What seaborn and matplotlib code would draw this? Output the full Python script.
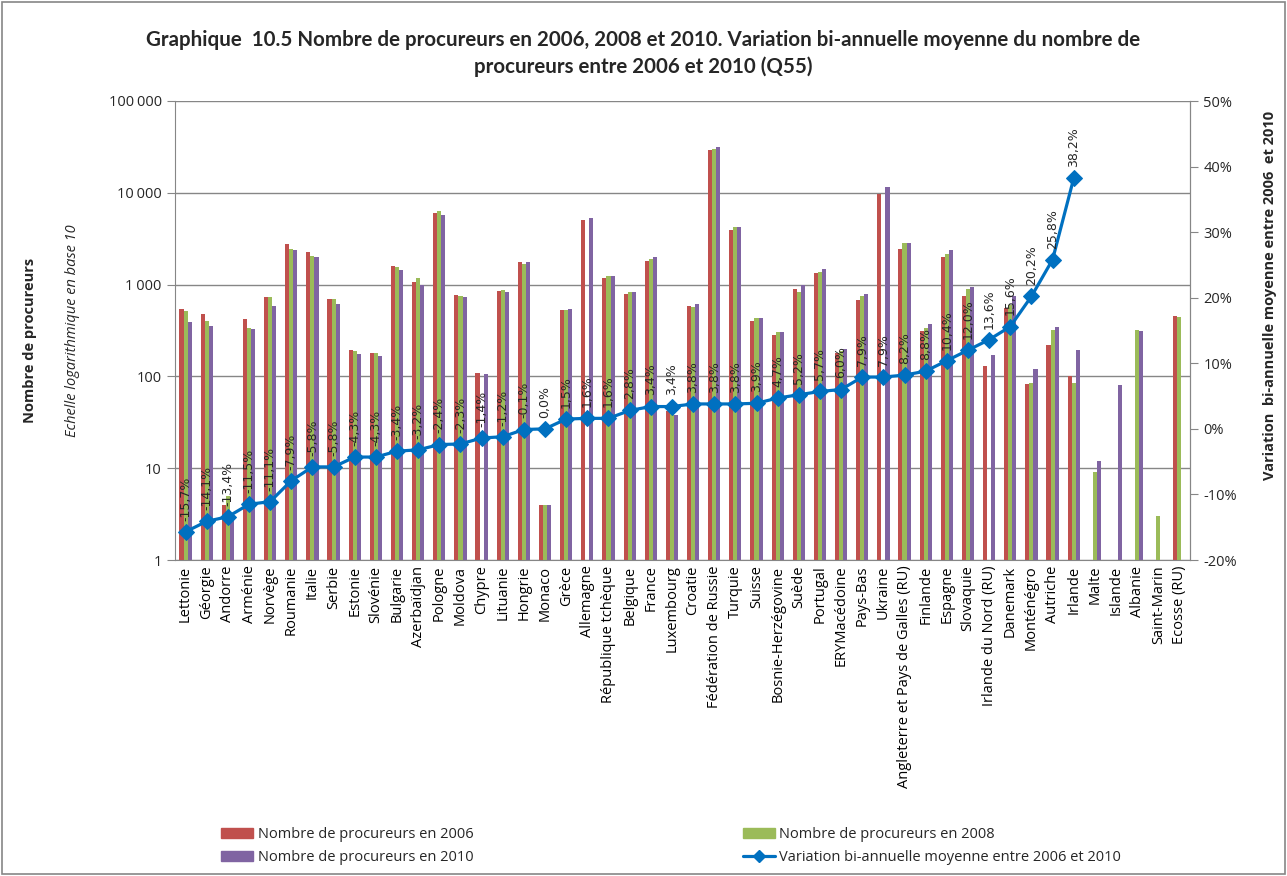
"""Nombre de procureurs 2006-2010 (graphique 10.5)"""

import numpy as np
import pandas as pd
import matplotlib
matplotlib.use("Agg")
import matplotlib.pyplot as plt
from matplotlib.lines import Line2D
from matplotlib.patches import Patch, Rectangle
from matplotlib.ticker import FixedLocator, NullLocator, FuncFormatter
import seaborn as sns

pays = [
    "Lettonie", "Géorgie", "Andorre", "Arménie", "Norvège", "Roumanie", "Italie",
    "Serbie", "Estonie", "Slovénie", "Bulgarie", "Azerbaïdjan", "Pologne", "Moldova",
    "Chypre", "Lituanie", "Hongrie", "Monaco", "Grèce", "Allemagne",
    "République tchèque", "Belgique", "France", "Luxembourg", "Croatie",
    "Fédération de Russie", "Turquie", "Suisse", "Bosnie-Herzégovine", "Suède",
    "Portugal", "ERYMacédoine", "Pays-Bas", "Ukraine",
    "Angleterre et Pays de Galles (RU)", "Finlande", "Espagne", "Slovaquie",
    "Irlande du Nord (RU)", "Danemark", "Monténégro", "Autriche", "Irlande",
    "Malte", "Islande", "Albanie", "Saint-Marin", "Ecosse (RU)",
]

nan = np.nan
proc_2006 = [
    544, 480, 4, 424, 734, 2743, 2265, 693, 193, 181, 1583, 1069, 6010, 778,
    109, 847, 1749, 4, 530, 5044, 1191, 798, 1824, 42, 581, 29320, 3927, 406,
    284, 905, 1339, 181, 676, 9680, 2462, 314, 2000, 753, 131, 553, 83, 219,
    101, nan, nan, nan, nan, 460,
]
proc_2008 = [
    522, 403, 5, 335, 734, 2421, 2050, 693, 190, 178, 1543, 1172, 6270, 759,
    nan, 868, 1679, 4, 530, nan, 1242, 832, 1885, 40, 567, 30330, 4270, 431,
    306, 832, 1361, 190, 759, nan, 2837, 340, 2155, 905, nan, 601, 85, 321,
    85, 9, nan, 321, 3, 442,
]
proc_2010 = [
    390, 355, 3, 330, 581, 2361, 2000, 622, 176, 166, 1443, 992, 5720, 728,
    106, 832, 1749, 4, 544, 5309, 1242, 832, 1983, 38, 617, 31900, 4270, 431,
    306, 1000, 1481, 201, 785, 11530, 2837, 374, 2400, 944, 169, 753, 121, 347,
    193, 12, 80, 314, nan, nan,
]
# variation bi-annuelle moyenne (%), pour les 43 premiers pays
variation = [
    -15.7, -14.1, -13.4, -11.5, -11.1, -7.9, -5.8, -5.8, -4.3, -4.3, -3.4, -3.2,
    -2.4, -2.3, -1.4, -1.2, -0.1, 0.0, 1.5, 1.6, 1.6, 2.8, 3.4, 3.4, 3.8, 3.8,
    3.8, 3.9, 4.7, 5.2, 5.7, 6.0, 7.9, 7.9, 8.2, 8.8, 10.4, 12.0, 13.6, 15.6,
    20.2, 25.8, 38.2,
]

series = ["Nombre de procureurs en 2006", "Nombre de procureurs en 2008",
          "Nombre de procureurs en 2010"]
line_label = "Variation bi-annuelle moyenne entre 2006 et 2010"
couleurs = ["#C0504D", "#9BBB59", "#8064A2"]
bleu = "#0070C0"
gris = "#868686"

df = pd.DataFrame({"pays": pays, series[0]: proc_2006,
                   series[1]: proc_2008, series[2]: proc_2010})
long_df = df.melt(id_vars="pays", var_name="serie", value_name="nombre")

sns.set_style("white")
plt.rcParams["font.family"] = ["Open Sans", "DejaVu Sans"]

fig = plt.figure(figsize=(12.87, 8.76), dpi=100)
ax = fig.add_axes([175 / 1287, 1 - 560 / 876, 1015 / 1287, 459 / 876])

sns.barplot(data=long_df, x="pays", y="nombre", hue="serie", order=pays,
            hue_order=series, palette=couleurs, width=0.58, gap=0,
            errorbar=None, legend=False, saturation=1, linewidth=0, ax=ax)
ax.set_yscale("log")
ax.set_ylim(1, 100000)
ax.yaxis.set_major_locator(FixedLocator([1, 10, 100, 1000, 10000, 100000]))
ax.yaxis.set_minor_locator(NullLocator())
ax.yaxis.set_major_formatter(
    FuncFormatter(lambda v, p: f"{int(round(v)):,}".replace(",", "\u202f")))
ax.set_axisbelow(True)
ax.yaxis.grid(True, color=gris, linewidth=1)
ax.set_xlabel("")
ax.set_ylabel("")

n = len(pays)
ax.set_xticks(np.arange(n))
ax.set_xticklabels(pays, rotation=90, fontsize=10.5, color="black")
ax.xaxis.set_minor_locator(FixedLocator(np.arange(n + 1) - 0.5))
ax.tick_params(axis="x", which="major", length=0, pad=4)
ax.tick_params(axis="x", which="minor", length=5, color=gris, direction="out")
ax.tick_params(axis="y", length=6, color=gris, labelsize=10.5, direction="out")
for side in ["left", "bottom", "right"]:
    ax.spines[side].set_color(gris)
ax.spines["top"].set_visible(False)

ax2 = ax.twinx()
x_line = np.arange(len(variation))
sns.lineplot(x=x_line, y=variation, ax=ax2, color=bleu, linewidth=2.3,
             marker="D", markersize=8, markeredgecolor=bleu)
for xi, v in zip(x_line, variation):
    txt = f"{v:.1f}%".replace(".", ",")
    ax2.annotate(txt, (xi, v), xytext=(0, 8), textcoords="offset points",
                 rotation=90, ha="center", va="bottom", fontsize=9,
                 family=["DejaVu Sans"])
ax2.set_ylim(-20, 50)
ax2.set_yticks(np.arange(-20, 51, 10))
ax2.yaxis.set_major_formatter(FuncFormatter(lambda v, p: f"{v:.0f}%"))
ax2.tick_params(axis="y", length=6, color=gris, labelsize=10.5)
ax2.set_xlabel("")
ax2.set_ylabel("")
for side in ["top", "left", "bottom"]:
    ax2.spines[side].set_visible(False)
ax2.spines["right"].set_color(gris)
ax.set_xlim(-0.5, n - 0.5)

titre_font = ["Lato", "DejaVu Sans"]
fig.text(0.5, 1 - 40 / 876,
         "Graphique  10.5 Nombre de procureurs en 2006, 2008 et 2010. "
         "Variation bi-annuelle moyenne du nombre de",
         ha="center", va="center", fontsize=14.8, fontweight="bold",
         family=titre_font)
fig.text(0.5, 1 - 67 / 876, "procureurs entre 2006 et 2010 (Q55)",
         ha="center", va="center", fontsize=14.8, fontweight="bold",
         family=titre_font)
fig.text(30 / 1287, 1 - 340 / 876, "Nombre de procureurs", rotation=90,
         ha="center", va="center", fontsize=10.5, fontweight="bold")
fig.text(72 / 1287, 1 - 331 / 876, "Echelle logarithmique en base 10",
         rotation=90, ha="center", va="center", fontsize=10.5, style="italic")
fig.text(1270 / 1287, 1 - 295 / 876,
         "Variation  bi-annuelle moyenne entre 2006  et 2010", rotation=90,
         ha="center", va="center", fontsize=10.5, fontweight="bold")

handles = [Patch(color=couleurs[0]), Patch(color=couleurs[2]),
           Patch(color=couleurs[1]),
           Line2D([], [], color=bleu, linewidth=2.3, marker="D", markersize=6)]
labels = [series[0], series[2], series[1], line_label]
fig.legend(handles, labels, ncol=2, loc="upper left",
           bbox_to_anchor=(208 / 1287, 1 - 814 / 876), frameon=False,
           fontsize=10.5, handlelength=2.2, handleheight=0.6,
           handletextpad=0.3, columnspacing=18.5, labelspacing=0.55)

fig.patches.append(Rectangle((2 / 1287, 2 / 876), 1 - 4 / 1287, 1 - 4 / 876,
                             transform=fig.transFigure, fill=False,
                             edgecolor=gris, linewidth=1.2))

fig.savefig("out.png", dpi=100)
